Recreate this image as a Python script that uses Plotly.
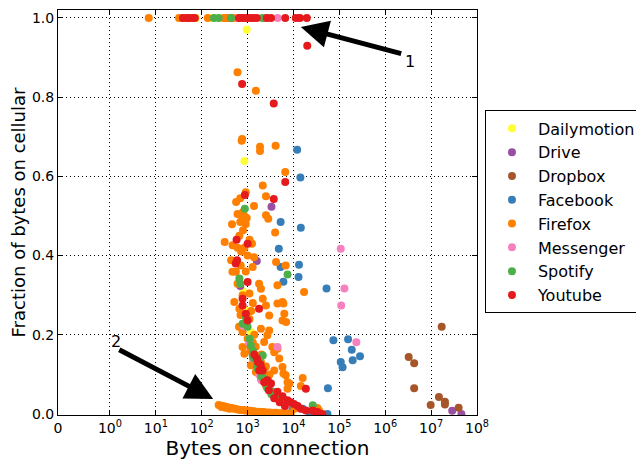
import plotly.graph_objects as go

# ---- data (bytes on connection, fraction on cellular) ----
dailymotion_x = [76, 160, 955, 851, 794, 912, 1175]
dailymotion_y = [1.0, 1.0, 0.97, 0.639, 0.31, 0.262, 0.207]

drive_x = [3311, 1585, 692, 2.88e7, 4.57e7]
drive_y = [0.523, 0.386, 0.323, 0.008, 0.0]

dropbox_x = [1.7e7, 3.24e6, 4.27e6, 4.27e6, 1.48e7, 2.0e7, 2.0e7, 9.77e6, 3.98e7]
dropbox_y = [0.22, 0.144, 0.128, 0.065, 0.043, 0.031, 0.024, 0.023, 0.016]

facebook_x = [12023, 14125, 5248, 14454, 4786, 13183, 12882, 6026, 5248, 52481,
              74131, 154882, 186209, 281838, 194984, 107152, 117490, 56234,
              10233, 12303, 15849, 22000, 35000, 55000, 9500]
facebook_y = [0.667, 0.597, 0.485, 0.47, 0.417, 0.377, 0.346, 0.334, 0.371, 0.317,
              0.186, 0.189, 0.162, 0.146, 0.136, 0.131, 0.118, 0.065,
              0.015, 0.017, 0.013, 0.006, 0.004, 0.0, 0.012]

firefox_x = [7, 32, 35, 135, 300, 330, 363, 420, 500,
             603, 1514, 759, 741, 1862, 1862, 4074, 6607, 2138, 912, 2512, 692, 562, 1380,
             603, 759, 851, 912, 692, 794, 955, 2512, 2818, 457, 794, 3981, 316,
             468, 437, 708, 603, 513, 661, 1096, 1778, 1950, 2138, 2512, 2951, 4467,
             5754, 6310, 5754, 4467, 16982, 1950, 2951, 2692, 2291, 3802, 4898, 5754,
             3802, 6761, 8128, 7413, 15849, 14454, 3467, 4467, 1096, 851, 776, 1288,
             1380, 4169, 6761, 776, 6026, 6918, 6026, 7413, 33113, 36000, 470, 556,
             1175, 1514, 1950, 2512, 3467, 4467, 6310, 10471, 1514, 1950, 2400,
             660, 724, 603, 851, 912, 1000, 1100, 1250, 776, 700, 650, 1200, 1300,
             1100, 1000, 1150, 1300, 1500, 2000, 2500, 3000, 1400, 2200, 2800,
             234, 260, 288, 320, 355, 400, 437, 480, 525, 580, 646, 720, 794, 870, 955,
             1060, 1175, 1350, 1514, 1750, 1950, 2250, 2512, 2900, 3236, 3700, 4169,
             4800, 5370, 6000, 6761, 7700, 8710, 270, 330, 400]
firefox_y = [1.0, 1.0, 1.0, 1.0, 1.0, 1.0, 1.0, 1.0, 1.0,
             0.863, 0.816, 0.694, 0.69, 0.675, 0.664, 0.677, 0.611, 0.577, 0.56, 0.55, 0.545, 0.535, 0.525,
             0.505, 0.49, 0.5, 0.48, 0.485, 0.51, 0.495, 0.502, 0.493, 0.479, 0.464, 0.458, 0.434,
             0.359, 0.388, 0.375, 0.329, 0.283, 0.266, 0.304, 0.329, 0.316, 0.291, 0.274, 0.249, 0.325,
             0.283, 0.253, 0.236, 0.279, 0.308, 0.215, 0.211, 0.199, 0.182, 0.156, 0.14, 0.119,
             0.11, 0.098, 0.077, 0.064, 0.091, 0.071, 0.169, 0.165, 0.173, 0.152, 0.169, 0.371,
             0.396, 0.384, 0.375, 0.207, 0.279, 0.232, 0.102, 0.08, 0.015, 0.009, 0.426, 0.359,
             0.123, 0.106, 0.089, 0.072, 0.051, 0.039, 0.026, 0.013, 0.14, 0.131, 0.118,
             0.45, 0.41, 0.42, 0.42, 0.36, 0.40, 0.44, 0.43, 0.30, 0.25, 0.22, 0.26, 0.28,
             0.24, 0.19, 0.16, 0.18, 0.17, 0.15, 0.12, 0.10, 0.20, 0.10, 0.085,
             0.023, 0.021, 0.02, 0.019, 0.018, 0.016, 0.015, 0.014, 0.013, 0.012, 0.011, 0.01, 0.01, 0.009, 0.009,
             0.008, 0.008, 0.007, 0.006, 0.006, 0.005, 0.005, 0.004, 0.004, 0.003, 0.003, 0.003,
             0.002, 0.002, 0.002, 0.002, 0.001, 0.001, 0.018, 0.016, 0.013]

messenger_x = [620, 2500, 4500, 13000, 107152, 128825, 109648, 234423, 800, 4467, 1072, 1778, 3090,
               1300, 2000]
messenger_y = [1.0, 1.0, 1.0, 1.0, 0.417, 0.317, 0.274, 0.181, 0.222, 0.169, 0.18, 0.10, 0.061,
               0.14, 0.085]

spotify_x = [185, 235, 435, 2100, 870, 7413, 661, 692, 912, 776, 1000, 1175, 1288, 2138, 1380,
             1660, 2291, 4169, 3467, 26303, 1800, 2600, 1100, 1300, 1600, 2000, 2700, 3300]
spotify_y = [1.0, 1.0, 1.0, 1.0, 0.518, 0.352, 0.342, 0.329, 0.245, 0.228, 0.22, 0.173, 0.148, 0.148, 0.14,
             0.114, 0.089, 0.051, 0.056, 0.022, 0.13, 0.07, 0.19, 0.16, 0.12, 0.095, 0.065, 0.05]

youtube_x = [39, 46, 52, 62, 71, 646, 759, 871, 1000, 1175, 1380, 1585, 2630, 3236, 6607,
             11220, 13800, 19500, 19953, 759, 3715, 6607, 871, 3715, 575, 1000,
             550, 589, 776, 776, 912, 1000, 1000, 1778, 1660, 1950, 2138, 2692, 3236,
             4467, 5754, 7413, 8710, 10233, 12303, 14454, 18621, 18621, 26303, 30903,
             33113, 42658, 1600, 1900, 1400, 1800, 2300, 2900, 3800, 5000, 6500]
youtube_y = [1.0, 1.0, 1.0, 1.0, 1.0, 1.0, 1.0, 1.0, 1.0, 1.0, 1.0, 1.0, 1.0, 1.0, 1.0,
             1.0, 1.0, 1.0, 0.93, 0.833, 0.784, 0.586, 0.553, 0.543, 0.44, 0.43,
             0.38, 0.388, 0.291, 0.274, 0.253, 0.236, 0.333, 0.266, 0.131, 0.119, 0.11, 0.085, 0.077,
             0.056, 0.045, 0.035, 0.03, 0.025, 0.02, 0.013, 0.064, 0.009, 0.009, 0.003,
             0.005, 0.0, 0.14, 0.125, 0.15, 0.11, 0.08, 0.06, 0.04, 0.03, 0.02]

series = [
    ("Dailymotion", dailymotion_x, dailymotion_y, "#ffff33"),
    ("Drive", drive_x, drive_y, "#984ea3"),
    ("Dropbox", dropbox_x, dropbox_y, "#a65628"),
    ("Facebook", facebook_x, facebook_y, "#377eb8"),
    ("Firefox", firefox_x, firefox_y, "#ff7f00"),
    ("Messenger", messenger_x, messenger_y, "#f781bf"),
    ("Spotify", spotify_x, spotify_y, "#4daf4a"),
    ("Youtube", youtube_x, youtube_y, "#e41a1c"),
]

x_zero = 10 ** -1.133
x_tickvals = [x_zero] + [10 ** k for k in range(0, 9)]
x_ticktext = ["0"] + ["10<sup>%d</sup>" % k for k in range(0, 9)]
y_tickvals = [0.0, 0.2, 0.4, 0.6, 0.8, 1.0]

FONT = "DejaVu Sans"

fig = go.Figure()
for name, xs, ys, col in series:
    fig.add_trace(go.Scatter(
        x=xs, y=ys, mode="markers", name=name,
        marker=dict(color=col, size=8, line=dict(width=0)),
    ))

fig.update_layout(
    width=644, height=464,
    margin=dict(l=50, r=175, t=2, b=57, autoexpand=False),
    plot_bgcolor="white", paper_bgcolor="white",
    font=dict(family=FONT, size=14, color="black"),
    showlegend=True,
    legend=dict(
        x=1.019, y=0.752, xanchor="left", yanchor="top",
        bordercolor="black", borderwidth=1, bgcolor="white",
        font=dict(family=FONT, size=16, color="black"),
        itemwidth=42, tracegroupgap=0,
    ),
    xaxis=dict(
        type="log", range=[-1.133, 8.0], automargin=False,
        tickmode="array", tickvals=x_tickvals, ticktext=x_ticktext,
        ticks="inside", ticklen=5, tickcolor="black",
        showline=True, linecolor="black", linewidth=1, mirror="ticks",
        showgrid=True, gridcolor="black", griddash="1px,3px", gridwidth=1,
        zeroline=False,
        title=dict(text="Bytes on connection", font=dict(size=20), standoff=4),
        tickfont=dict(size=14),
    ),
    yaxis=dict(
        range=[-0.0025, 1.02], automargin=False,
        tickmode="array", tickvals=y_tickvals,
        ticktext=["%.1f" % v for v in y_tickvals],
        ticks="inside", ticklen=5, tickcolor="black",
        showline=True, linecolor="black", linewidth=1, mirror="ticks",
        showgrid=True, gridcolor="black", griddash="1px,3px", gridwidth=1,
        zeroline=False,
        title=dict(text="Fraction of bytes on cellular", font=dict(size=18), standoff=4),
        tickfont=dict(size=14),
    ),
)

# arrows (annotation positions on log axis are log10 values)
fig.add_annotation(x=4.16, y=0.977, ax=6.38, ay=0.909, xref="x", yref="y",
                   axref="x", ayref="y", text="", showarrow=True,
                   arrowhead=2, arrowsize=1.1, arrowwidth=5, arrowcolor="black", standoff=0)
fig.add_annotation(x=6.55, y=0.89, xref="x", yref="y", text="1", showarrow=False,
                   font=dict(size=16, family=FONT))
fig.add_annotation(x=2.25, y=0.038, ax=0.17, ay=0.164, xref="x", yref="y",
                   axref="x", ayref="y", text="", showarrow=True,
                   arrowhead=2, arrowsize=1.1, arrowwidth=5, arrowcolor="black", standoff=0)
fig.add_annotation(x=0.13, y=0.182, xref="x", yref="y", text="2", showarrow=False,
                   font=dict(size=16, family=FONT))

fig.write_html("out.html")
